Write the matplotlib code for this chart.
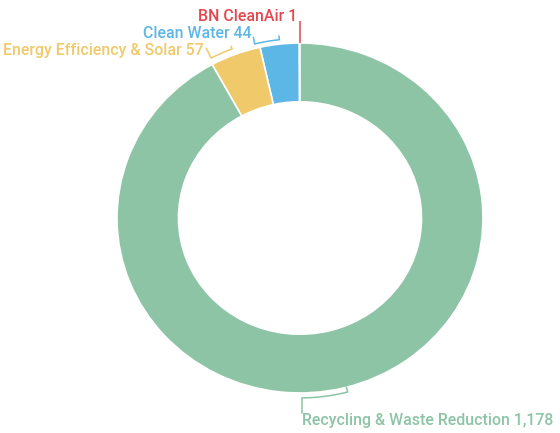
import numpy as np
import matplotlib
matplotlib.use("Agg")
import matplotlib.pyplot as plt

categories = ["BN CleanAir", "Clean Water", "Energy Efficiency & Solar", "Recycling & Waste Reduction"]
values = [1, 44, 57, 1178]
colors = ["#E5474F", "#5DB7E6", "#F0C96A", "#8DC4A6"]

plt.rcParams['font.family'] = ['Roboto', 'DejaVu Sans']

W, H = 560, 433
fig = plt.figure(figsize=(W / 100, H / 100), dpi=100)
ax = fig.add_axes([0, 0, 1, 1])

# pixel mapping: centre (300, 218), radii 183 px (x), 175 px (y)
cx, cy, rx, ry = 300, 218, 183, 175
def px(x):
    return (x - cx) / rx
def py(y):
    return (cy - y) / ry

wedges, _ = ax.pie(values, colors=colors, startangle=90, counterclock=True,
                   radius=1.0,
                   wedgeprops=dict(width=0.336, edgecolor="white", linewidth=1.2))
ax.set_aspect('auto')
ax.set_xlim(px(0), px(W))
ax.set_ylim(py(H), py(0))
ax.axis('off')

fs = 11.4
weight = 'medium'

def pt(r, a):
    a = np.deg2rad(a)
    return r * np.cos(a), r * np.sin(a)

def arc(r, a1, a2, n=20):
    a = np.deg2rad(np.linspace(a1, a2, n))
    return r * np.cos(a), r * np.sin(a)

lw = 1.1
# BN CleanAir: vertical line from ring top to label
c = colors[0]
x0, y0 = pt(1.0, 90.1)
ax.plot([x0, x0], [y0, py(21)], color=c, lw=lw, solid_capstyle='butt')
ax.text(px(297), py(21), f"{categories[0]} {values[0]:,}", color=c,
        fontsize=fs, fontweight=weight, ha='right', va='baseline')

# Clean Water
c = colors[1]
xa, ya = arc(1.025, 104, 96.3)
xt, yt = pt(1.045, 96.3)
ax.plot(np.r_[px(253.5), xa, xt], np.r_[py(37.5), ya, yt], color=c, lw=lw)
ax.text(px(252), py(38), f"{categories[1]} {values[1]:,}", color=c,
        fontsize=fs, fontweight=weight, ha='right', va='baseline')

# Energy Efficiency & Solar
c = colors[2]
xa, ya = arc(1.035, 118, 111)
xt, yt = pt(1.05, 111)
ax.plot(np.r_[px(206.5), xa, xt], np.r_[py(48.5), ya, yt], color=c, lw=lw)
ax.text(px(204), py(55), f"{categories[2]} {values[2]:,}", color=c,
        fontsize=fs, fontweight=weight, ha='right', va='baseline')

# Recycling & Waste Reduction
c = colors[3]
xa, ya = arc(1.028, -89.4, -75.3)
xt, yt = pt(1.0, -75.3)
ax.plot(np.r_[xa[0], xa, xt], np.r_[py(413), ya, yt], color=c, lw=lw)
ax.text(px(302), py(425), f"{categories[3]} {values[3]:,}", color=c,
        fontsize=fs, fontweight=weight, ha='left', va='baseline')

fig.savefig("out.png", dpi=100, facecolor="white")
